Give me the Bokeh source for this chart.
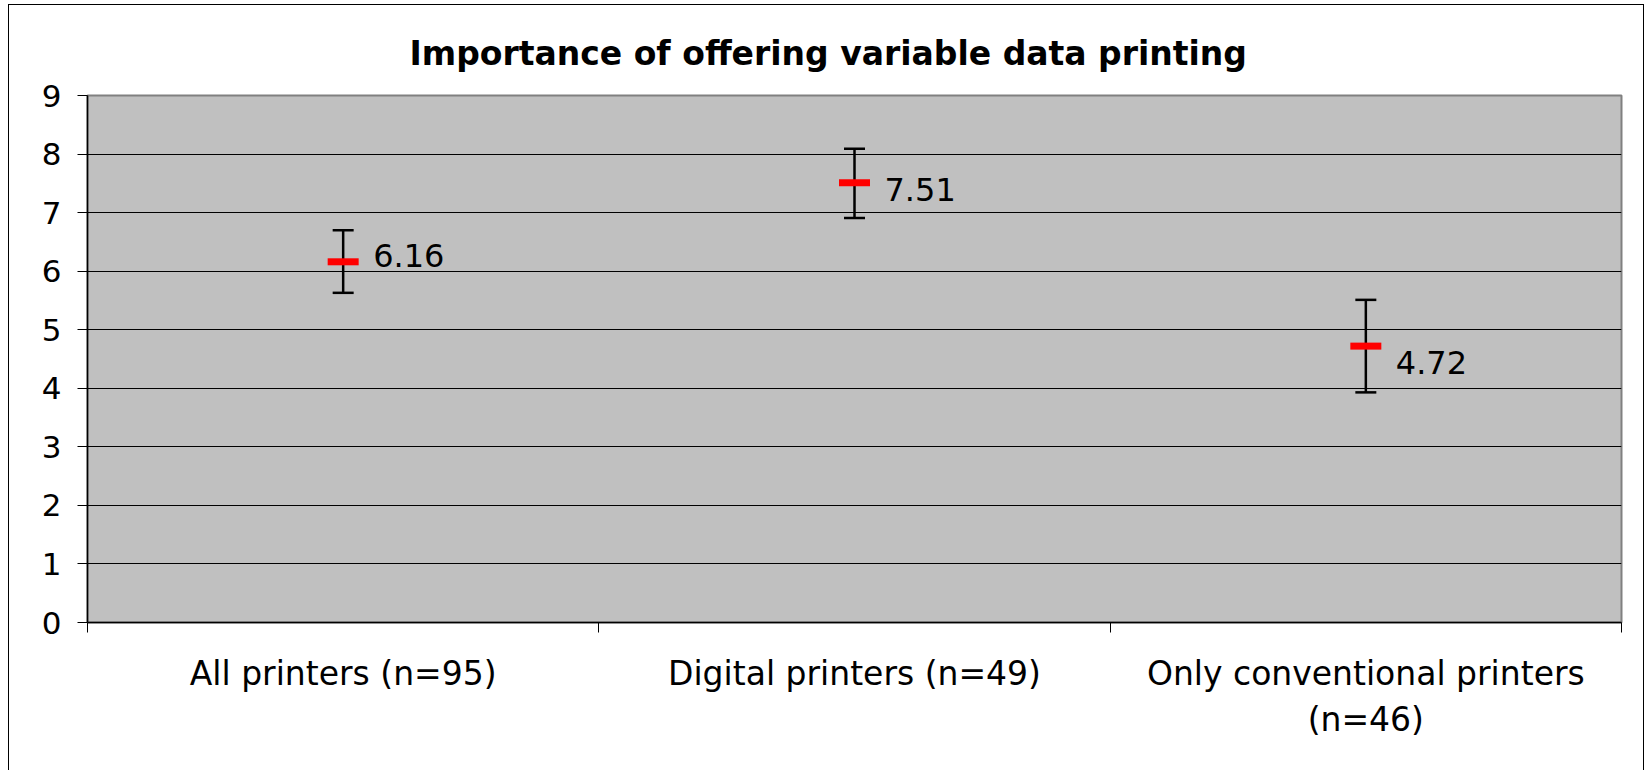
from bokeh.plotting import figure
from bokeh.models import FixedTicker, ColumnDataSource, Range1d
from bokeh.embed import file_html
from bokeh.resources import INLINE
from bokeh.core.properties import value

# ---- data ----
title_text = "Importance of offering variable data printing"
categories = ["All printers (n=95)", "Digital printers (n=49)", "Only conventional printers\n(n=46)"]
means = [6.16, 7.51, 4.72]
upper = [6.70, 8.09, 5.51]
lower = [5.63, 6.91, 3.93]
y_ticks = [0, 1, 2, 3, 4, 5, 6, 7, 8, 9]

# ---- styling helpers (not data) ----
FONT = "DejaVu Sans"
label_dy = [-6, 7, 16]          # pixel nudges of the value labels

positions = [i + 0.5 for i in range(len(categories))]
boundaries = [float(i) for i in range(len(categories) + 1)]
labels = [f"{m:.2f}" for m in means]

src = ColumnDataSource(dict(x=positions, mean=means, upper=upper, lower=lower,
                            label=labels, dy=label_dy))

p = figure(width=1636, height=766,
           x_range=Range1d(0, len(categories)), y_range=Range1d(y_ticks[0], y_ticks[-1]),
           output_backend="svg", toolbar_location=None,
           min_border_left=78, min_border_right=24, min_border_top=90, min_border_bottom=149,
           background_fill_color="#C0C0C0", border_fill_color="white",
           outline_line_color="#808080", outline_line_width=2,
           margin=(4, 0, 0, 8),
           styles={"border-left": "1px solid black", "border-top": "1px solid black",
                   "border-right": "1px solid black"})

# title
p.title.text = title_text
p.title.text_font = FONT
p.title.text_font_size = "33px"
p.title.text_font_style = "bold"
p.title.align = "left"
p.title.offset = 322
p.title.standoff = 45
p.title.text_color = "black"

# grid
p.xgrid.visible = False
p.ygrid.ticker = FixedTicker(ticks=y_ticks)
p.ygrid.grid_line_color = "black"
p.ygrid.grid_line_width = 1

# y axis
ya = p.yaxis[0]
ya.ticker = FixedTicker(ticks=y_ticks)
ya.axis_line_color = "black"
ya.axis_line_width = 1.5
ya.major_tick_line_color = "black"
ya.major_tick_out = 10
ya.major_tick_in = 0
ya.minor_tick_line_color = None
ya.major_label_standoff = 16
ya.major_label_text_font = FONT
ya.major_label_text_font_size = "31px"
ya.major_label_text_color = "black"

# x axis
xa = p.xaxis[0]
xa.ticker = FixedTicker(ticks=positions, minor_ticks=boundaries)
xa.major_label_overrides = {pos: cat for pos, cat in zip(positions, categories)}
xa.axis_line_color = "black"
xa.axis_line_width = 1.5
xa.major_tick_line_color = None
xa.major_tick_out = 0
xa.major_tick_in = 0
xa.minor_tick_line_color = "black"
xa.minor_tick_out = 10
xa.minor_tick_in = 0
xa.major_label_standoff = 21
xa.major_label_text_font = FONT
xa.major_label_text_font_size = "33px"
xa.major_label_text_color = "black"

# error bars
p.segment(x0="x", y0="lower", x1="x", y1="upper", line_color="black", line_width=2.5, source=src)
p.scatter(x="x", y="upper", marker="dash", size=21, line_width=2.5, line_color="black", source=src)
p.scatter(x="x", y="lower", marker="dash", size=21, line_width=2.5, line_color="black", source=src)

# mean markers
p.rect(x="x", y="mean", width=31, height=7, width_units="screen", height_units="screen",
       fill_color="#FF0000", line_color=None, source=src)

# value labels
p.text(x="x", y="mean", text="label", x_offset=30, y_offset="dy",
       text_font=value(FONT), text_font_size="32px", text_baseline="middle",
       text_align="left", text_color="black", source=src)

open("out.html", "w").write(file_html(p, INLINE))
